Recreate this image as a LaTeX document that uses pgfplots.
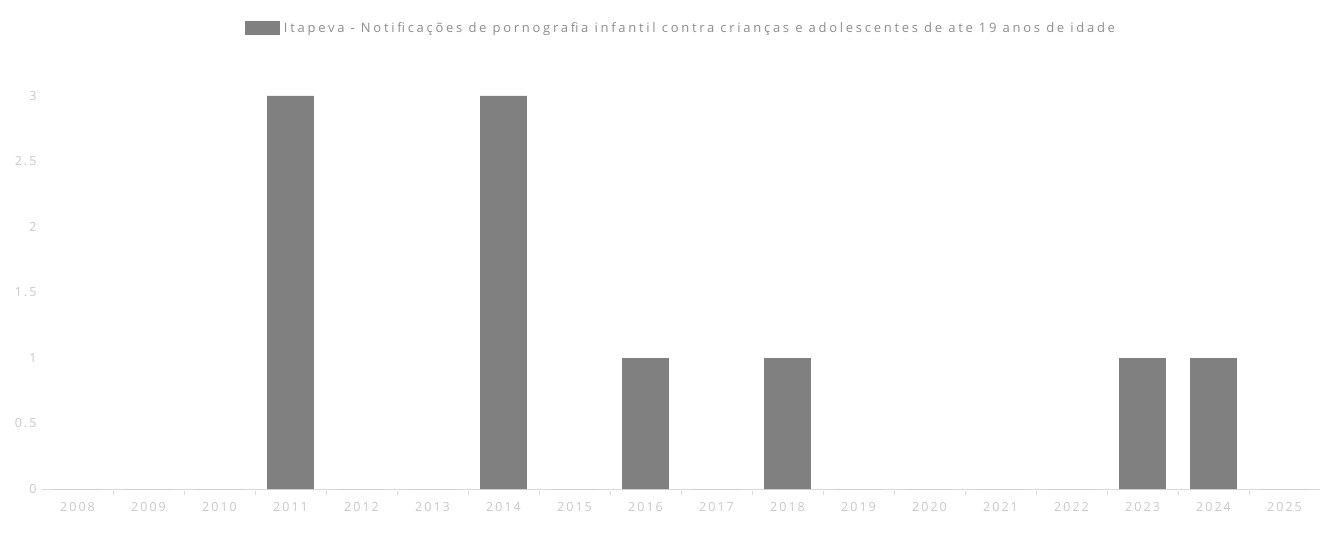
\documentclass[border=0pt]{standalone}
\usepackage{fontspec}
\setmainfont{Open Sans}
\newfontfamily\spaced[LetterSpace=16]{Open Sans}
\newfontfamily\spacedl[LetterSpace=21]{Open Sans}
\usepackage{pgfplots}
\pgfplotsset{compat=1.18}
\definecolor{barg}{HTML}{808080}
\definecolor{lbl}{HTML}{C8C8C8}
\definecolor{axl}{HTML}{DADADA}
\definecolor{legt}{HTML}{8C8C8C}
\begin{document}
\begin{tikzpicture}[x=1pt,y=1pt]
\useasboundingbox (0,0) rectangle (1324,533);
\begin{axis}[
  at={(42pt,44pt)}, anchor=south west,
  scale only axis, width=1278pt, height=393pt,
  xmin=-0.5, xmax=17.5, ymin=0, ymax=3,
  ybar, bar width=0.66,
  axis y line=none, axis x line*=bottom,
  x axis line style={axl, -},
  xtick={0,...,17},
  xticklabels={2008,2009,2010,2011,2012,2013,2014,2015,2016,2017,2018,2019,2020,2021,2022,2023,2024,2025},
  major x tick style={draw=none},
  minor xtick={0.5,1.5,...,16.5},
  minor tick length=4pt,
  minor x tick style={axl, yshift=-2pt},
  xticklabel style={font=\spaced\fontsize{12.5}{14}\selectfont, text=lbl, yshift=-6pt},
  legend style={at={(0.5,1)}, anchor=center, yshift=68pt, draw=none, fill=none,
    font=\spacedl\fontsize{13}{15}\selectfont, text=legt},
  legend image code/.code={\fill[barg] (0pt,-7pt) rectangle (35pt,7pt);},
  clip=false,
]
\addplot[fill=barg, draw=none] coordinates {
(0,0) (1,0) (2,0) (3,3) (4,0) (5,0) (6,3) (7,0) (8,1) (9,0) (10,1) (11,0) (12,0) (13,0) (14,0) (15,1) (16,1) (17,0)};
\addlegendentry{\hspace{2pt}Itapeva - Notificações de pornografia infantil contra crianças e adolescentes de ate 19 anos de idade}
\end{axis}
\begin{axis}[
  at={(42pt,44pt)}, anchor=south west,
  scale only axis, width=1278pt, height=393pt,
  xmin=-0.5, xmax=17.5, ymin=0, ymax=3,
  axis x line=none, axis y line*=left, y axis line style={draw=none},
  ytick={0,0.5,1,1.5,2,2.5,3},
  yticklabels={0,0.5,1,1.5,2,2.5,3},
  major y tick style={draw=none},
  yticklabel style={font=\spaced\fontsize{12.5}{14}\selectfont, text=lbl, xshift=-2pt},
]
\end{axis}
\end{tikzpicture}
\end{document}
